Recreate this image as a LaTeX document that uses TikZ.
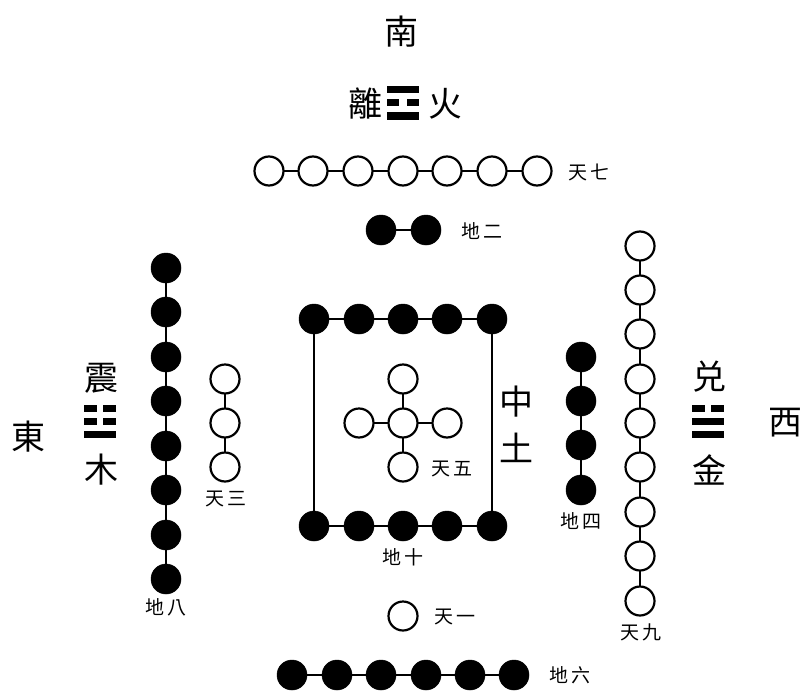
\documentclass[tikz,border=0pt]{standalone}
\usepackage{fontspec}
\setmainfont{Noto Sans CJK TC}
\tikzset{
  yang/.style={circle,draw=black,fill=white,line width=2.2pt,minimum size=29pt,inner sep=0pt,outer sep=0pt},
  yin/.style={circle,draw=black,fill=black,line width=0.5pt,minimum size=30pt,inner sep=0pt,outer sep=0pt},
  link/.style={draw=black,line width=2.4pt},
  big/.style={inner sep=0pt,font=\fontsize{34}{34}\selectfont},
  small/.style={inner sep=0pt,font=\fontsize{19}{19}\selectfont},
  bar/.style={fill=black,draw=none}
}
\begin{document}
\begin{tikzpicture}[x=1pt,y=-1pt]
\useasboundingbox (0,0) rectangle (802,698);
\foreach \n/\x in {1/269,2/313,3/358,4/403,5/447,6/492,7/537} \node[yang] (a\n) at (\x,171) {};
\foreach \i/\j in {1/2,2/3,3/4,4/5,5/6,6/7} \draw[link] (a\i) -- (a\j);
\node[yin] (b1) at (381,230) {};
\node[yin] (b2) at (426,230) {};
\draw[link] (b1) -- (b2);
\foreach \n/\x in {1/314,2/359,3/403,4/447,5/492} {
  \node[yin] (c\n) at (\x,319) {};
  \node[yin] (d\n) at (\x,526) {};
}
\foreach \i/\j in {1/2,2/3,3/4,4/5} {
  \draw[link] (c\i) -- (c\j);
  \draw[link] (d\i) -- (d\j);
}
\draw[link] (c1) -- (d1);
\draw[link] (c5) -- (d5);
\node[yang] (e0) at (403,423) {};
\node[yang] (e1) at (403,379) {};
\node[yang] (e2) at (403,467) {};
\node[yang] (e3) at (359,423) {};
\node[yang] (e4) at (447,423) {};
\foreach \j in {1,2,3,4} \draw[link] (e0) -- (e\j);
\foreach \n/\y in {1/379,2/423,3/467} \node[yang] (f\n) at (225,\y) {};
\foreach \i/\j in {1/2,2/3} \draw[link] (f\i) -- (f\j);
\foreach \n/\y in {1/268,2/312,3/357,4/401,5/446,6/490,7/535,8/579} \node[yin] (g\n) at (166,\y) {};
\foreach \i/\j in {1/2,2/3,3/4,4/5,5/6,6/7,7/8} \draw[link] (g\i) -- (g\j);
\foreach \n/\y in {1/357,2/401,3/445,4/490} \node[yin] (h\n) at (581,\y) {};
\foreach \i/\j in {1/2,2/3,3/4} \draw[link] (h\i) -- (h\j);
\foreach \n/\y in {1/246,2/290,3/334,4/379,5/423,6/467,7/512,8/556,9/601} \node[yang] (k\n) at (640,\y) {};
\foreach \i/\j in {1/2,2/3,3/4,4/5,5/6,6/7,7/8,8/9} \draw[link] (k\i) -- (k\j);
\node[yang] (m) at (403,616) {};
\foreach \n/\x in {1/292,2/337,3/381,4/426,5/470,6/514} \node[yin] (p\n) at (\x,675) {};
\foreach \i/\j in {1/2,2/3,3/4,4/5,5/6} \draw[link] (p\i) -- (p\j);
% trigrams
\fill[bar] (387,86.5) rectangle (419,93.5);
\fill[bar] (387,99.5) rectangle (399,106.5);
\fill[bar] (407,99.5) rectangle (419,106.5);
\fill[bar] (387,112.5) rectangle (419,119.5);
\fill[bar] (84,404.5) rectangle (97,411.5);
\fill[bar] (103,404.5) rectangle (116,411.5);
\fill[bar] (84,417.5) rectangle (97,424.5);
\fill[bar] (103,417.5) rectangle (116,424.5);
\fill[bar] (84,430.5) rectangle (116,437.5);
\fill[bar] (692,404.5) rectangle (705,411.5);
\fill[bar] (711,404.5) rectangle (724,411.5);
\fill[bar] (692,417.5) rectangle (724,424.5);
\fill[bar] (692,430.5) rectangle (724,437.5);
% large text
\node[big] (tS) at (401,32) {南};
\node[big] (tLi) at (365,104) {離};
\node[big] (tFire) at (445,104) {火};
\node[big] (tE) at (28,437) {東};
\node[big] (tZh) at (101,378) {震};
\node[big] (tWood) at (101,470) {木};
\node[big] (tDui) at (709,377) {兑};
\node[big] (tGold) at (709,470) {金};
\node[big] (tW) at (785,423) {西};
\node[big] (tC) at (516,402) {中};
\node[big] (tEarth) at (516,448) {土};
% small labels
\node[small] (l7) at (589,172) {天\,七};
\node[small] (l2) at (482,231) {地\,二};
\node[small] (l5) at (452,469) {天\,五};
\node[small] (l3) at (226,499) {天\,三};
\node[small] (l8) at (166,607) {地\,八};
\node[small] (l4) at (581,521) {地\,四};
\node[small] (l9) at (641,632) {天\,九};
\node[small] (l10) at (403,557) {地\,十};
\node[small] (l1) at (455,617) {天\,一};
\node[small] (l6) at (570,675) {地\,六};
\end{tikzpicture}
\end{document}
